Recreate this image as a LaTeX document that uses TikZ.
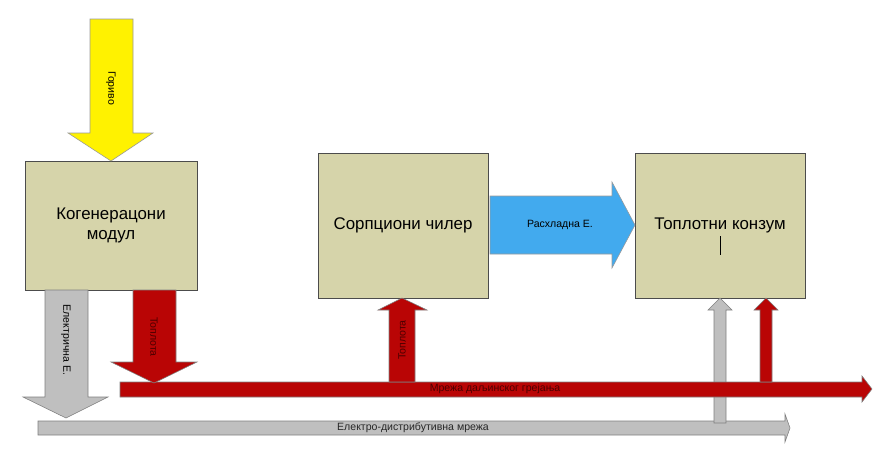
\documentclass[tikz,border=0pt]{standalone}
\usepackage{fontspec}
\setmainfont{Liberation Sans}
\begin{document}
\begin{tikzpicture}[x=0.025cm, y=-0.025cm,
  box/.style={draw=black!70, fill=boxfill, line width=0.6pt, inner sep=0pt},
  yarrow/.style={draw=black!40, fill=yellow, line width=0.4pt},
  barrow/.style={draw=black!40, fill=coolblue, line width=0.4pt},
  rarrow/.style={draw=black!50, fill=heatred, line width=0.4pt},
  garrow/.style={draw=black!50, fill=gray!50, line width=0.4pt},
  big/.style={font=\fontsize{12}{14}\selectfont, align=center},
  small/.style={font=\fontsize{7.5}{9}\selectfont}]

  \definecolor{boxfill}{RGB}{214,212,170}
  \definecolor{coolblue}{RGB}{66,170,238}
  \definecolor{heatred}{RGB}{185,5,5}
  \useasboundingbox (0,0) rectangle (876,467);

  % Boxes
  \node[box, minimum width=172*0.025cm, minimum height=129*0.025cm, big] (KG) at (111,225.5) {Когенерацони\\модул};
  \node[box, minimum width=170*0.025cm, minimum height=145*0.025cm, big] (SC) at (403,225.5) {Сорпциони чилер};
  \node[box, minimum width=170*0.025cm, minimum height=145*0.025cm, big] (TK) at (720,225.5) {Топлотни конзум};
  \draw[line width=0.5pt] (720,236) -- (720,255);

  % Fuel arrow
  \draw[yarrow] (90,19) -- (133,19) -- (133,133) -- (153,133) -- (111,161) -- (68,133) -- (90,133) -- cycle;
  \node[small, rotate=-90] (FU) at (111,88) {Гориво};

  % Cooling energy arrow
  \draw[barrow] (490,196) -- (612,196) -- (612,182) -- (635,225) -- (612,268) -- (612,254) -- (490,254) -- cycle;
  \node[small] (CE) at (560,225) {Расхладна Е.};

  % Grid lines
  \draw[garrow] (38,421) -- (785,421) -- (785,414) -- (790,428) -- (785,442) -- (785,435) -- (38,435) -- cycle;
  \node[small, text=black!85] (EG) at (413,428) {Електро-дистрибутивна мрежа};
  \draw[garrow] (714,423) -- (714,310) -- (708,310) -- (720,298) -- (732,310) -- (726,310) -- (726,423) -- cycle;
  \draw[rarrow] (120,382) -- (862,382) -- (862,376) -- (872,389) -- (862,402) -- (862,397) -- (120,397) -- cycle;
  \node[small, text=black!70!red] (DH) at (495,389) {Мрежа даљинског грејања};

  % Electricity and heat from module
  \draw[garrow] (45,290) -- (88,290) -- (88,397) -- (108,397) -- (66,418) -- (23,397) -- (45,397) -- cycle;
  \node[small, rotate=-90] (EE) at (66,340) {Електрична Е.};
  \draw[rarrow] (133,290) -- (176,290) -- (176,362) -- (197,362) -- (154,383) -- (111,362) -- (133,362) -- cycle;
  \node[small, rotate=-90, text=black!70!red] (HM) at (154,337) {Топлота};

  % Heat to chiller and consumer
  \draw[rarrow] (389,382) -- (389,310) -- (378,310) -- (402,298) -- (427,310) -- (415,310) -- (415,382) -- cycle;
  \node[small, rotate=90, text=black!70!red] (HC) at (402,340) {Топлота};
  \draw[rarrow] (760,382) -- (760,310) -- (754,310) -- (766,298) -- (778,310) -- (772,310) -- (772,382) -- cycle;

\end{tikzpicture}
\end{document}
